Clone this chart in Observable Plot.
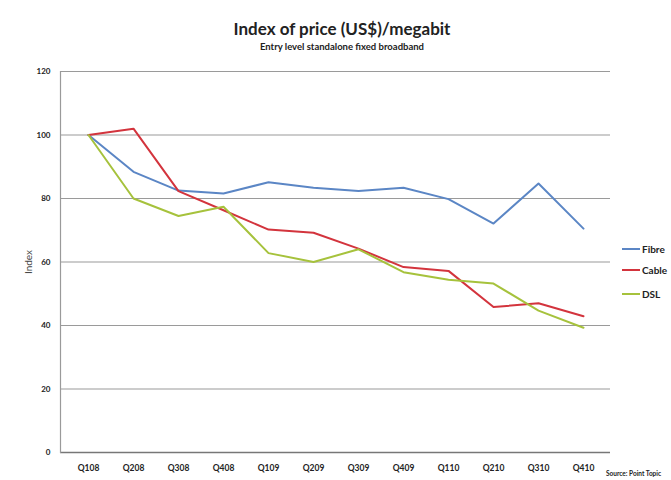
<!DOCTYPE html>
<html>
<head>
<meta charset="utf-8">
<script src="https://cdn.jsdelivr.net/npm/d3@7"></script>
<script src="https://cdn.jsdelivr.net/npm/@observablehq/plot@0.6"></script>
<style>
  body { margin: 0; background: #fff; }
  #wrap { position: relative; width: 671px; height: 480px; overflow: hidden; font-family: Lato, "Open Sans", sans-serif; color: #222; }
  #title { position: absolute; left: 0; width: 684px; top: 18px; text-align: center; font-weight: bold; font-size: 17px; }
  #subtitle { position: absolute; left: 0; width: 684px; top: 41px; text-align: center; font-weight: bold; font-size: 9.5px; }
  #chart { position: absolute; left: 0; top: 56px; }
  #legend { position: absolute; left: 622px; top: 243px; font-weight: bold; font-size: 10px; }
  .item { position: absolute; left: 0; white-space: nowrap; display: flex; align-items: center; }
  .sw { display: inline-block; width: 18px; height: 2.5px; margin-right: 2px; }
  #source { position: absolute; left: 606px; top: 470px; font-size: 6.5px; font-weight: bold; white-space: nowrap; }
</style>
</head>
<body>
<div id="wrap">
  <div id="title">Index of price (US$)/megabit</div>
  <div id="subtitle">Entry level standalone fixed broadband</div>
  <div id="chart"></div>
  <div id="legend"></div>
  <div id="source">Source: Point Topic</div>
</div>
<script>
const quarters = ["Q108","Q208","Q308","Q408","Q109","Q209","Q309","Q409","Q110","Q210","Q310","Q410"];
const fibre = [100, 88.4, 82.5, 81.6, 85.1, 83.4, 82.4, 83.4, 79.8, 72.1, 84.7, 70.5];
const cable = [100, 102, 82.3, 76.3, 70.2, 69.2, 64.2, 58.4, 57.2, 45.8, 47, 42.9];
const dsl = [100, 80, 74.5, 77.4, 62.8, 60, 64, 56.8, 54.4, 53.2, 44.7, 39.3];
const seriesNames = ["Fibre", "Cable", "DSL"];
const seriesColors = ["#5b86c5", "#d3343d", "#a6c23c"];
const yTicks = [0, 20, 40, 60, 80, 100, 120];

const seriesValues = [fibre, cable, dsl];
const rows = [];
seriesNames.forEach((s, i) => quarters.forEach((q, j) => rows.push({series: s, quarter: q, value: seriesValues[i][j]})));

const chart = Plot.plot({
  width: 671,
  height: 424,
  marginTop: 15,
  marginBottom: 28,
  marginLeft: 60,
  marginRight: 61,
  style: { fontFamily: "Lato, 'Open Sans', sans-serif", background: "transparent" },
  x: { type: "point", domain: quarters, padding: 0.5 },
  y: { domain: [0, 120] },
  color: { domain: seriesNames, range: seriesColors },
  marks: [
    Plot.ruleY(yTicks, { stroke: "#9a9a9a", strokeWidth: 1.2 }),
    Plot.ruleY([0], { stroke: "#777", strokeWidth: 1.3 }),
    Plot.frame({ anchor: "left", stroke: "#9a9a9a", strokeWidth: 1.2 }),
    Plot.axisY(yTicks, { tickSize: 0, tickPadding: 10, fontSize: 8, fontWeight: "bold", label: null }),
    Plot.axisY({ ticks: [], tickSize: 0, label: "Index", labelAnchor: "center", labelOffset: 36, labelArrow: "none", fontSize: 10, fill: "#444" }),
    Plot.axisX(quarters, { tickSize: 0, tickPadding: 12, fontSize: 8.5, fontWeight: "bold", label: null }),
    Plot.lineY(rows, { x: "quarter", y: "value", stroke: "series", strokeWidth: 2 })
  ]
});
document.getElementById("chart").appendChild(chart);

const legend = document.getElementById("legend");
const legendTops = [0, 21, 45];
seriesNames.forEach((s, i) => {
  const d = document.createElement("div");
  d.className = "item";
  d.style.top = legendTops[i] + "px";
  d.innerHTML = `<span class="sw" style="background:${seriesColors[i]}"></span>${s}`;
  legend.appendChild(d);
});
</script>
</body>
</html>
